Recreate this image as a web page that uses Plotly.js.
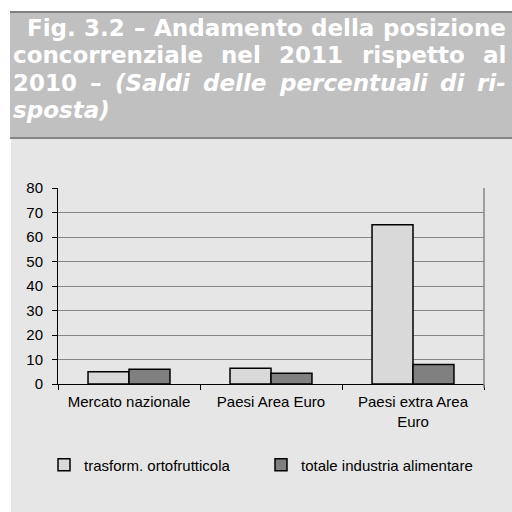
<!DOCTYPE html>
<html>
<head>
<meta charset="utf-8">
<script src="https://cdn.plot.ly/plotly-3.0.1.min.js"></script>
<style>html,body{margin:0;padding:0;background:#fff;}#chart{width:512px;height:512px;}</style>
</head>
<body>
<div id="chart"></div>
<script>
// ---- data ----
var categories = ["Mercato nazionale", "Paesi Area Euro", "Paesi extra Area<br>Euro"];
var seriesNames = ["trasform. ortofrutticola", "totale industria alimentare"];
var ortofrutticola = [5, 6.4, 65];
var industriaAlimentare = [6, 4.4, 8];
var yTicks = [0, 10, 20, 30, 40, 50, 60, 70, 80];
var titleLines = [
  [{t: "Fig. 3.2 – Andamento della posizione", s: "normal"}],
  [{t: "concorrenziale nel 2011 rispetto al", s: "normal"}],
  [{t: "2010 –", s: "normal"}, {t: "(Saldi delle percentuali di ri-", s: "italic"}],
  [{t: "sposta)", s: "italic"}]
];

// ---- layout geometry ----
var W = 512, H = 512;
var M = {l: 58, r: 28, t: 188, b: 128};
var PW = W - M.l - M.r, PH = H - M.t - M.b;
function px2x(px) { return (px - M.l) / PW; }
function px2y(py) { return (H - M.b - py) / PH; }

var TF = 23;
var titleFont = "'DejaVu Sans', Verdana, sans-serif";
var cv = document.createElement('canvas').getContext('2d');
function measure(word, style) {
  cv.font = (style === 'italic' ? 'italic ' : '') + 'bold ' + TF + 'px ' + titleFont;
  return cv.measureText(word).width;
}

var lineGeom = [
  {l: 26, r: 505, base: 35.5, justify: true},
  {l: 12, r: 505, base: 63, justify: true},
  {l: 12, r: 505, base: 90.5, justify: true},
  {l: 12, r: 505, base: 118, justify: false}
];

var annotations = [];
titleLines.forEach(function (line, li) {
  var words = [];
  line.forEach(function (seg) {
    seg.t.split(' ').forEach(function (w) { words.push({t: w, s: seg.s}); });
  });
  var widths = words.map(function (w) { return measure(w.t, w.s); });
  var sum = widths.reduce(function (a, b) { return a + b; }, 0);
  var g = lineGeom[li];
  var gap = (g.justify && words.length > 1) ? (g.r - g.l - sum) / (words.length - 1) : measure(' ', 'normal');
  var x = g.l;
  words.forEach(function (w, i) {
    annotations.push({
      text: w.t, xref: 'paper', yref: 'paper', showarrow: false,
      x: px2x(x - 1), y: px2y(g.base - 7.9), xanchor: 'left', yanchor: 'middle',
      font: {family: titleFont, size: TF, color: '#ffffff', weight: 'bold', style: w.s}
    });
    x += widths[i] + gap;
  });
});

var shapes = [
  // chart background
  {type: 'rect', xref: 'paper', yref: 'paper', layer: 'below',
   x0: px2x(11), x1: px2x(513), y0: px2y(138), y1: px2y(513),
   fillcolor: '#e6e6e6', line: {width: 0}},
  // title box
  {type: 'rect', xref: 'paper', yref: 'paper', layer: 'below',
   x0: px2x(10), x1: px2x(513), y0: px2y(13), y1: px2y(137),
   fillcolor: '#c0c0c0', line: {width: 0}},
  {type: 'rect', xref: 'paper', yref: 'paper', layer: 'below',
   x0: px2x(10), x1: px2x(513), y0: px2y(11), y1: px2y(13),
   fillcolor: '#808080', line: {width: 0}},
  {type: 'rect', xref: 'paper', yref: 'paper', layer: 'below',
   x0: px2x(10), x1: px2x(513), y0: px2y(137), y1: px2y(139),
   fillcolor: '#858585', line: {width: 0}},
  // right border of plot area
  {type: 'line', xref: 'paper', yref: 'paper', layer: 'above',
   x0: 1, x1: 1, y0: px2y(388), y1: 1, line: {color: '#868686', width: 1.5}}
];

var traces = [
  {type: 'bar', x: categories, y: ortofrutticola, name: seriesNames[0],
   marker: {color: '#d9d9d9', line: {color: '#000000', width: 1.5}}},
  {type: 'bar', x: categories, y: industriaAlimentare, name: seriesNames[1],
   marker: {color: '#808080', line: {color: '#000000', width: 1.5}}}
];

var layout = {
  width: W, height: H,
  margin: M,
  paper_bgcolor: '#ffffff',
  plot_bgcolor: 'rgba(0,0,0,0)',
  barmode: 'group', bargap: 0.423, bargroupgap: 0,
  font: {family: "'Liberation Sans', Arial, sans-serif", size: 15, color: '#000000'},
  showlegend: true,
  legend: {
    orientation: 'h', x: px2x(44), y: px2y(465), xanchor: 'left', yanchor: 'middle',
    bgcolor: 'rgba(0,0,0,0)', font: {size: 15, color: '#000000'},
    entrywidth: 172, entrywidthmode: 'pixels', traceorder: 'normal'
  },
  xaxis: {
    type: 'category', showline: true, linecolor: '#000000', linewidth: 1,
    ticks: 'outside', tickson: 'boundaries', ticklen: 5, tickcolor: '#000000',
    ticklabelstandoff: 4,
    showgrid: false, zeroline: false, fixedrange: true
  },
  yaxis: {
    range: [0, 80], tickvals: yTicks, ticktext: yTicks.map(String),
    showline: true, linecolor: '#000000', linewidth: 1,
    ticks: 'outside', ticklen: 5, tickcolor: '#000000',
    ticklabelstandoff: 6,
    showgrid: true, gridcolor: '#868686', gridwidth: 1,
    zeroline: false, fixedrange: true
  },
  shapes: shapes,
  annotations: annotations
};

Plotly.newPlot('chart', traces, layout, {staticPlot: true, displayModeBar: false});
</script>
</body>
</html>
